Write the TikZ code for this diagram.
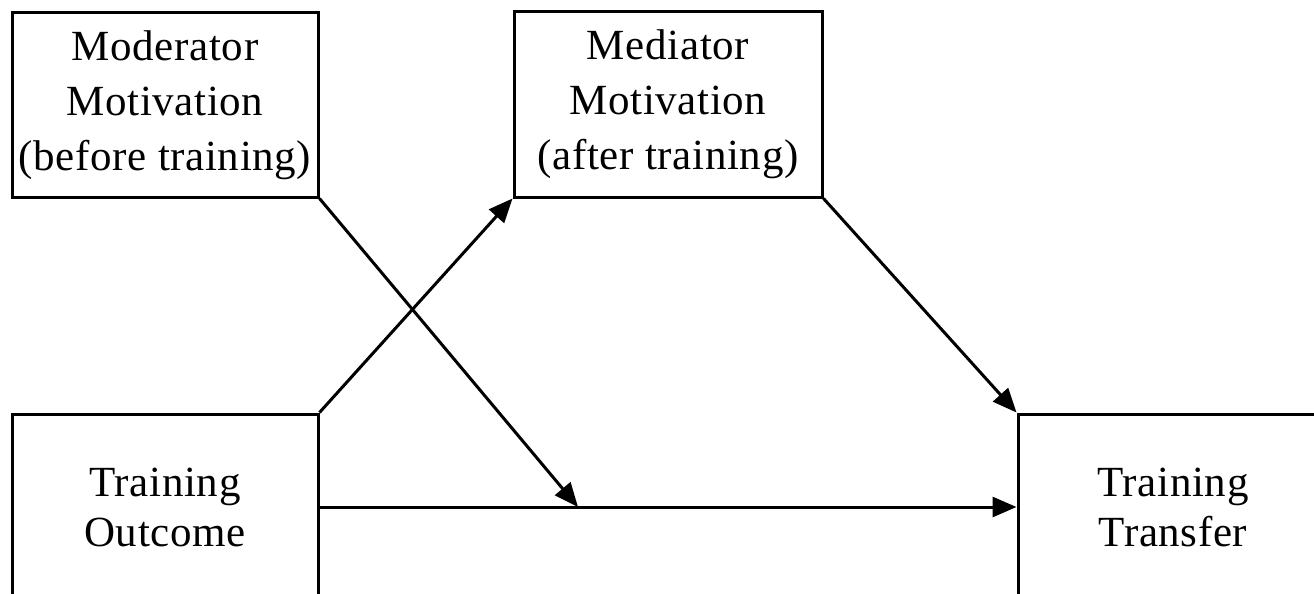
\documentclass[tikz,border=0pt]{standalone}
\usepackage{fontspec}
\setmainfont[LetterSpace=1.5]{Liberation Serif}
\usetikzlibrary{arrows.meta}
\begin{document}
\begin{tikzpicture}[x=1pt,y=-1pt,
  box/.style={draw, line width=3pt, rectangle, inner sep=0pt, align=center,
    font=\fontsize{43}{55}\selectfont},
  lowbox/.style={box, font=\fontsize{43}{50}\selectfont},
  conn/.style={line width=3pt, -{Triangle[length=24pt,width=20pt]}}]
\useasboundingbox (0,0) rectangle (1314,594);
\clip (0,0) rectangle (1314,594);
\node[box, minimum width=306pt, minimum height=184pt] (mod) at (165,105)
  {Moderator\\Motivation\\(before training)};
\node[box, minimum width=308pt, minimum height=185pt] (med) at (668,104.5)
  {Mediator\\Motivation\\(after training)};
\node[lowbox, minimum width=306pt, minimum height=186pt] (out) at (165,507)
  {Training\\Outcome};
\node[lowbox, minimum width=310pt, minimum height=186pt] (tra) at (1173,507)
  {Training\\Transfer};
\coordinate (mid) at (578,507);
\draw[conn] (out.north east) -- (med.south west);
\draw[conn] (med.south east) -- (tra.north west);
\draw[conn] (out.east) -- (tra.west);
\draw[conn] (mod.south east) -- (mid);
\end{tikzpicture}
\end{document}
